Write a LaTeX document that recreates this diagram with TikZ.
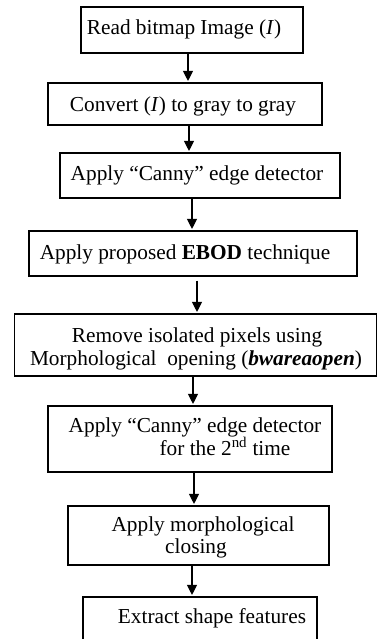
\documentclass[tikz,border=0pt]{standalone}
\usepackage{fontspec}
\setmainfont{Liberation Serif}
\usetikzlibrary{arrows.meta}
\begin{document}
\begin{tikzpicture}[x=1pt,y=-1pt,
  box/.style={draw=black,line width=1.1pt,rectangle,inner sep=0pt,fill=white},
  txt/.style={anchor=base,inner sep=0pt,font=\fontsize{21.3}{25}\selectfont},
  arr/.style={draw=black,line width=1.1pt,-{Triangle[length=10pt,width=10pt]},shorten >=1.5pt}]
\useasboundingbox (0,0) rectangle (377,639);
\clip (0,0) rectangle (377,639);
% boxes
\node[box,minimum width=222pt,minimum height=46pt] (b1) at (192,30) {};
\node[box,minimum width=274pt,minimum height=42pt] (b2) at (185,104) {};
\node[box,minimum width=280pt,minimum height=45pt] (b3) at (200,175.5) {};
\node[box,minimum width=328pt,minimum height=45pt] (b4) at (193,253.5) {};
\node[box,minimum width=362pt,minimum height=62pt] (b5) at (195.5,345) {};
\node[box,minimum width=284pt,minimum height=66pt] (b6) at (190,439) {};
\node[box,minimum width=261pt,minimum height=59pt] (b7) at (198.5,535.5) {};
\node[box,minimum width=234pt,minimum height=80pt] (b8) at (200,637) {};
% texts
\node[txt] (t1) at (184,35) {Read bitmap Image (\textit{I})};
\node[txt] (t2) at (183,112) {Convert (\textit{I}) to gray to gray};
\node[txt] (t3) at (197,180) {Apply “Canny” edge detector};
\node[txt] (t4) at (185,259) {Apply proposed \textbf{EBOD} technique};
\node[txt] (t5a) at (197,342) {Remove isolated pixels using};
\node[txt] (t5b) at (196,365) {Morphological\ \ opening (\textbf{\textit{bwareaopen}})};
\node[txt] (t6a) at (195,432) {Apply “Canny” edge detector};
\node[txt] (t6b) at (225,455) {for the 2\textsuperscript{nd} time};
\node[txt] (t7a) at (203,531) {Apply morphological};
\node[txt] (t7b) at (196,553) {closing};
\node[txt] (t8) at (212,623) {Extract shape features};
% arrows
\draw[arr] (b1.south -| 188,0) -- (b2.north -| 188,0);
\draw[arr] (b2.south -| 189,0) -- (b3.north -| 189,0);
\draw[arr] (b3.south -| 192,0) -- (b4.north -| 192,0);
\draw[arr] ([yshift=-4pt]b4.south -| 197,0) -- (b5.north -| 197,0);
\draw[arr] (b5.south -| 193,0) -- (b6.north -| 193,0);
\draw[arr] (b6.south -| 194,0) -- (b7.north -| 194,0);
\draw[arr] (b7.south -| 192,0) -- (b8.north -| 192,0);
\end{tikzpicture}
\end{document}
